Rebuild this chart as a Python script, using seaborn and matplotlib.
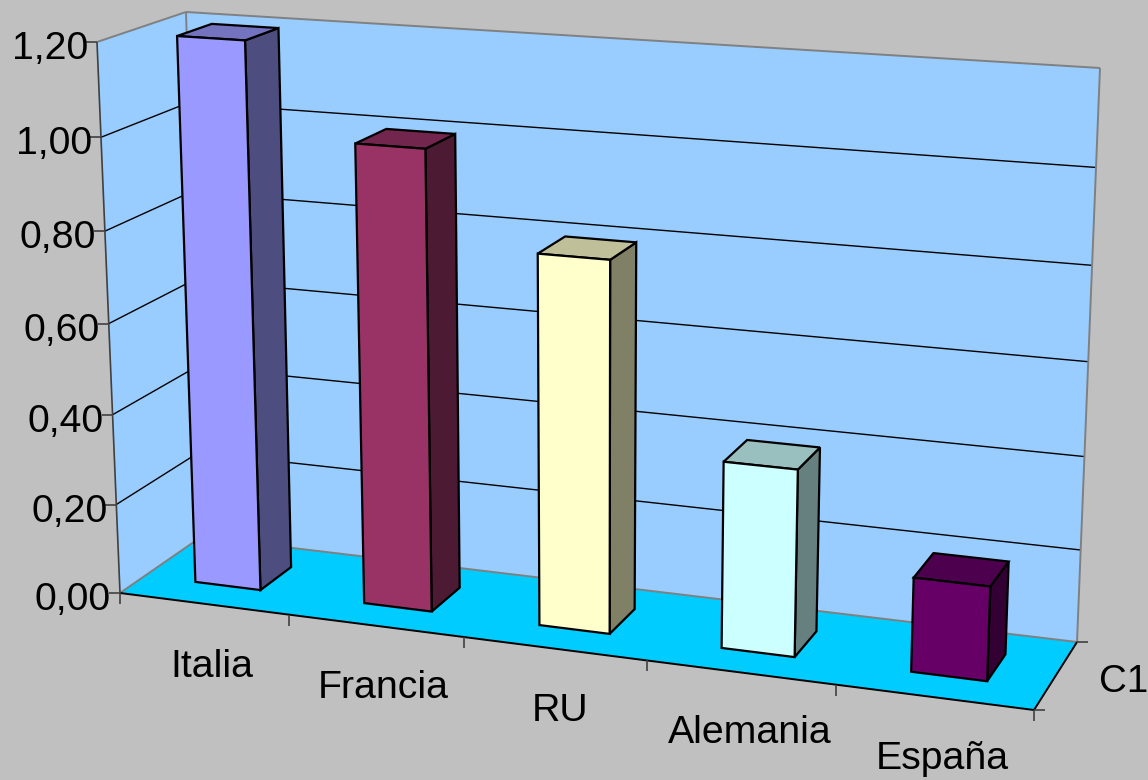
import numpy as np
import pandas as pd
import matplotlib
matplotlib.use('Agg')
import matplotlib.pyplot as plt
import matplotlib.colors as mcolors
from matplotlib.patches import Polygon
from matplotlib.transforms import Transform
import seaborn as sns

categories = ['Italia', 'Francia', 'RU', 'Alemania', 'España']
values = [1.20, 1.00, 0.80, 0.40, 0.20]
bar_colors = ['#9999FF', '#993366', '#FFFFCC', '#CCFFFF', '#660066']
y_ticks = [0.0, 0.2, 0.4, 0.6, 0.8, 1.0, 1.2]
y_labels = ['0,00', '0,20', '0,40', '0,60', '0,80', '1,00', '1,20']
series_label = 'C1'

Y_MAX = 1.2
DEPTH = (0.3, 0.7)
BAR_WIDTH = 0.39

# corners of the 3d box on screen: (u, v, w) -> pixel
box = [((0, 0, 0), (120, 593)), ((1, 0, 0), (1034, 710)), ((0, 1, 0), (97, 42)),
       ((0, 0, 1), (201, 537)), ((1, 0, 1), (1077, 642)), ((0, 1, 1), (186, 12)),
       ((1, 1, 1), (1100, 68))]
rows, rhs = [], []
for (u, v, w), (px, py) in box:
    rows.append([u, v, w, 1, 0, 0, 0, 0, -px*u, -px*v, -px*w])
    rhs.append(px)
    rows.append([0, 0, 0, 0, u, v, w, 1, -py*u, -py*v, -py*w])
    rhs.append(py)
P = np.append(np.linalg.lstsq(np.array(rows, float), np.array(rhs, float), rcond=None)[0], 1).reshape(3, 4)


def pinhole(u, v, w):
    u, v, w = np.broadcast_arrays(u, v, w)
    q = P @ np.stack([u, v, w, np.ones_like(u)]).astype(float)
    return np.stack([q[0]/q[2], q[1]/q[2]], axis=-1)


# the chart is not a true pinhole view, so spread what is left over at the corners
leftover = [(k, np.array(s) - pinhole(*k)) for k, s in box]


def project(u, v, w):
    out = pinhole(u, v, w)
    for (a, b, d), r in leftover:
        wt = (u if a else 1 - np.asarray(u))*(v if b else 1 - np.asarray(v))*(w if d else 1 - np.asarray(w))
        out = out + np.asarray(wt)[..., None]*r
    return out


def to_uvw(x, y, w):
    return (x + 0.5)/len(categories), y/Y_MAX, w


class BarPlane(Transform):
    # takes bar coordinates (category, value) on to a plane of the box
    input_dims = output_dims = 2

    def __init__(self, w):
        super().__init__()
        self.w = w

    def transform_non_affine(self, values):
        values = np.asarray(values)
        return project(*to_uvw(values[:, 0], values[:, 1], self.w))


sns.set_theme(style='white')
plt.rcParams['font.family'] = ['Liberation Sans', 'DejaVu Sans']
fig = plt.figure(figsize=(11.48, 7.8), dpi=100, facecolor='#C0C0C0')

canvas = fig.add_axes([0, 0, 1, 1], zorder=0)
canvas.set_xlim(0, 1148)
canvas.set_ylim(780, 0)
canvas.axis('off')

bar_ax = fig.add_axes([0, 0, 1, 1], zorder=1)
bar_ax.patch.set_alpha(0)
df = pd.DataFrame({'pais': categories, 'valor': values})
sns.barplot(data=df, x='pais', y='valor', hue='pais', palette=bar_colors, dodge=False,
            width=BAR_WIDTH, saturation=1, legend=False, edgecolor='black', linewidth=1.6, ax=bar_ax)
bar_ax.axis('off')


def face(pts, color, edge='none', lw=0, z=1):
    canvas.add_patch(Polygon(pts, closed=True, facecolor=color, edgecolor=edge, linewidth=lw, zorder=z))


def line(a, b, color='black', lw=1.0, z=2):
    canvas.plot([a[0], b[0]], [a[1], b[1]], color=color, lw=lw, zorder=z, solid_capstyle='butt')


c = lambda u, v, w: project(u, v, w)

# walls and floor
face([c(0, 0, 1), c(1, 0, 1), c(1, 1, 1), c(0, 1, 1)], '#99CCFF')
face([c(0, 0, 0), c(0, 0, 1), c(0, 1, 1), c(0, 1, 0)], '#99CCFF')
face([c(0, 0, 0), c(1, 0, 0), c(1, 0, 1), c(0, 0, 1)], '#00CCFF')

# gridlines
for t in y_ticks[1:-1]:
    v = t/Y_MAX
    line(c(0, v, 0), c(0, v, 1), lw=1.0)
    line(c(0, v, 1), c(1, v, 1), lw=1.0)

# box edges
for a, b in [((0, 1, 0), (0, 1, 1)), ((0, 1, 1), (1, 1, 1)), ((1, 1, 1), (1, 0, 1)),
             ((0, 1, 1), (0, 0, 1)), ((0, 0, 1), (1, 0, 1)), ((0, 0, 0), (0, 0, 1))]:
    line(c(*a), c(*b), color='#808080', lw=1.4, z=3)
line(c(0, 0, 0), c(1, 0, 0), lw=1.4, z=3)
line(c(1, 0, 0), c(1, 0, 1), lw=1.4, z=3)
line(c(0, 0, 0), c(0, 1, 0), color='#404040', lw=1.2, z=3)

# axis ticks and labels
for t, lab in zip(y_ticks, y_labels):
    p = c(0, t/Y_MAX, 0)
    line(p - [11, 0], p, color='#404040', lw=1.2, z=3)
    canvas.text(p[0] - 9, p[1] + 7, lab, ha='right', va='center', fontsize=28.3, color='black')

n = len(categories)
for i in range(n + 1):
    p = c(i/n, 0, 0)
    line(p, p + [0, 11], color='#404040', lw=1.2, z=3)

for w in [0, 1]:
    p = c(1, 0, w)
    line(p, p + [11, 0], color='#404040', lw=1.2, z=3)

label_shift = [(8, 63), (8, 62), (6, 62), (9, 61), (8, 62)]
for i, (name, shift) in enumerate(zip(categories, label_shift)):
    p = c((i + 0.5)/n, 0, 0)
    canvas.text(p[0] + shift[0], p[1] + shift[1], name, ha='center', va='center', fontsize=28.3, color='black')

canvas.text(1099, 682, series_label, ha='left', va='center', fontsize=27.7, color='black')

# the seaborn bars become the front faces, sides and tops are built from them
front = BarPlane(DEPTH[0]) + canvas.transData
for patch, col in zip(bar_ax.patches, bar_colors):
    x0, x1 = patch.get_x(), patch.get_x() + patch.get_width()
    h = patch.get_height()
    patch.set_transform(front)
    patch.set_clip_on(False)
    u0, v, _ = to_uvw(x0, h, 0)
    u1 = to_uvw(x1, h, 0)[0]
    rgb = np.array(mcolors.to_rgb(col))
    d0, d1 = DEPTH
    face([c(u1, 0, d0), c(u1, 0, d1), c(u1, v, d1), c(u1, v, d0)], rgb*0.5, edge='black', lw=1.6, z=4)
    face([c(u0, v, d0), c(u1, v, d0), c(u1, v, d1), c(u0, v, d1)], rgb*0.75, edge='black', lw=1.6, z=4)

fig.savefig('out.png', dpi=100, facecolor=fig.get_facecolor())
